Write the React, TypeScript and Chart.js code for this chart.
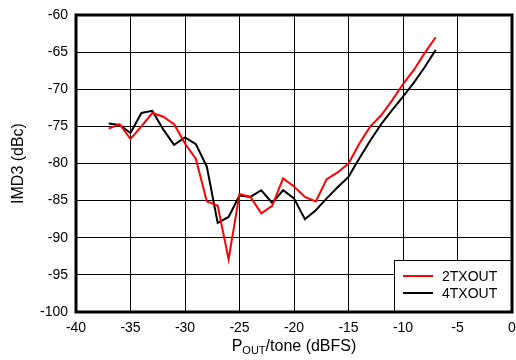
import React, { useEffect, useRef } from "react";
import { Chart, registerables } from "chart.js";

Chart.register(...registerables);

const xValues = [-37, -36, -35, -34, -33, -32, -31, -30, -29, -28, -27, -26, -25, -24, -23, -22, -21, -20, -19, -18, -17, -16, -15, -14, -13, -12, -11, -10, -9, -8, -7];

const tx2Values = [-75.3, -74.7, -76.7, -75.0, -73.2, -73.7, -74.7, -77.3, -79.4, -85.1, -85.7, -92.9, -84.1, -84.5, -86.7, -85.7, -82.0, -83.1, -84.5, -85.1, -82.1, -81.2, -80.0, -77.3, -75.0, -73.5, -71.5, -69.3, -67.4, -65.1, -63.0];

const tx4Values = [-74.6, -74.8, -75.9, -73.2, -72.9, -75.4, -77.5, -76.5, -77.4, -80.4, -88.0, -87.2, -84.3, -84.5, -83.6, -85.3, -83.6, -84.7, -87.5, -86.3, -84.7, -83.2, -81.8, -79.3, -76.9, -74.7, -72.8, -71.0, -69.1, -67.0, -64.7];

const seriesLabels = ["2TXOUT", "4TXOUT"];
const seriesColors = ["#ff0000", "#000000"];

const xMin = -40, xMax = 0, xStep = 5;
const yMin = -100, yMax = -60, yStep = 5;

const FONT = "Arial, 'Liberation Sans', sans-serif";

const framePlugin = {
  id: "frame",
  afterDatasetsDraw(chart: any) {
    const { ctx, chartArea } = chart;
    const { left, top, right, bottom } = chartArea;
    ctx.save();
    // legend box
    const lw = 118, lh = 52;
    const lx = right - lw, ly = bottom - lh;
    ctx.fillStyle = "#ffffff";
    ctx.fillRect(lx, ly, lw, lh);
    ctx.strokeStyle = "#000";
    ctx.lineWidth = 1;
    ctx.strokeRect(lx + 0.5, ly + 0.5, lw, lh);
    chart.data.datasets.forEach((ds: any, i: number) => {
      const yy = ly + 16 + i * 17;
      ctx.strokeStyle = ds.borderColor;
      ctx.lineWidth = 2;
      ctx.beginPath();
      ctx.moveTo(lx + 9, yy);
      ctx.lineTo(lx + 39, yy);
      ctx.stroke();
      ctx.fillStyle = "#000";
      ctx.font = `14px ${FONT}`;
      ctx.textBaseline = "middle";
      ctx.textAlign = "left";
      ctx.fillText(ds.label, lx + 48, yy + 1);
    });
    // frame
    ctx.strokeStyle = "#000";
    ctx.lineWidth = 3;
    ctx.strokeRect(left, top, right - left, bottom - top);
    // y title
    ctx.fillStyle = "#000";
    ctx.font = `16px ${FONT}`;
    ctx.textAlign = "center";
    ctx.textBaseline = "middle";
    ctx.save();
    ctx.translate(19, (top + bottom) / 2);
    ctx.rotate(-Math.PI / 2);
    ctx.fillText("IMD3 (dBc)", 0, 0);
    ctx.restore();
    // x title with subscript
    const big = `16px ${FONT}`;
    const small = `11px ${FONT}`;
    ctx.textBaseline = "alphabetic";
    ctx.textAlign = "left";
    ctx.font = big;
    const wP = ctx.measureText("P").width;
    const wRest = ctx.measureText("/tone (dBFS)").width;
    ctx.font = small;
    const wSub = ctx.measureText("OUT").width;
    const total = wP + wSub + wRest;
    let x = (left + right) / 2 - total / 2;
    const base = 351;
    ctx.font = big;
    ctx.fillText("P", x, base);
    x += wP;
    ctx.font = small;
    ctx.fillText("OUT", x, base + 3);
    x += wSub;
    ctx.font = big;
    ctx.fillText("/tone (dBFS)", x, base);
    ctx.restore();
  },
};

export default function App() {
  const ref = useRef<HTMLCanvasElement | null>(null);
  useEffect(() => {
    if (!ref.current) return;
    const chart = new Chart(ref.current, {
      type: "line",
      data: {
        datasets: [
          {
            label: seriesLabels[0],
            data: xValues.map((x, i) => ({ x, y: tx2Values[i] })),
            borderColor: seriesColors[0],
            backgroundColor: seriesColors[0],
            borderWidth: 2,
            pointRadius: 0,
            tension: 0,
          },
          {
            label: seriesLabels[1],
            data: xValues.map((x, i) => ({ x, y: tx4Values[i] })),
            borderColor: seriesColors[1],
            backgroundColor: seriesColors[1],
            borderWidth: 2,
            pointRadius: 0,
            tension: 0,
          },
        ],
      },
      options: {
        animation: false,
        responsive: false,
        maintainAspectRatio: false,
        layout: { padding: { top: 15, right: 4, left: 0, bottom: 0 } },
        plugins: {
          legend: { display: false },
          tooltip: { enabled: false },
        },
        scales: {
          x: {
            type: "linear",
            min: xMin,
            max: xMax,
            ticks: {
              stepSize: xStep,
              color: "#000",
              font: { family: FONT, size: 14 },
              padding: 8,
              maxRotation: 0,
            },
            grid: { color: "#000", lineWidth: 1, drawTicks: false },
            border: { display: false },
            afterFit: (s: any) => {
              s.height = 48;
              s.paddingLeft = 0;
              s.paddingRight = 0;
            },
          },
          y: {
            type: "linear",
            min: yMin,
            max: yMax,
            ticks: {
              stepSize: yStep,
              color: "#000",
              font: { family: FONT, size: 14 },
              padding: 8,
            },
            grid: { color: "#000", lineWidth: 1, drawTicks: false },
            border: { display: false },
            afterFit: (s: any) => {
              s.width = 76;
              s.paddingTop = 0;
              s.paddingBottom = 0;
            },
          },
        },
      },
      plugins: [framePlugin],
    });
    return () => chart.destroy();
  }, []);
  return (
    <div style={{ position: "absolute", left: 0, top: 0, width: 516, height: 360, background: "#fff" }}>
      <canvas ref={ref} width={516} height={360} />
    </div>
  );
}
